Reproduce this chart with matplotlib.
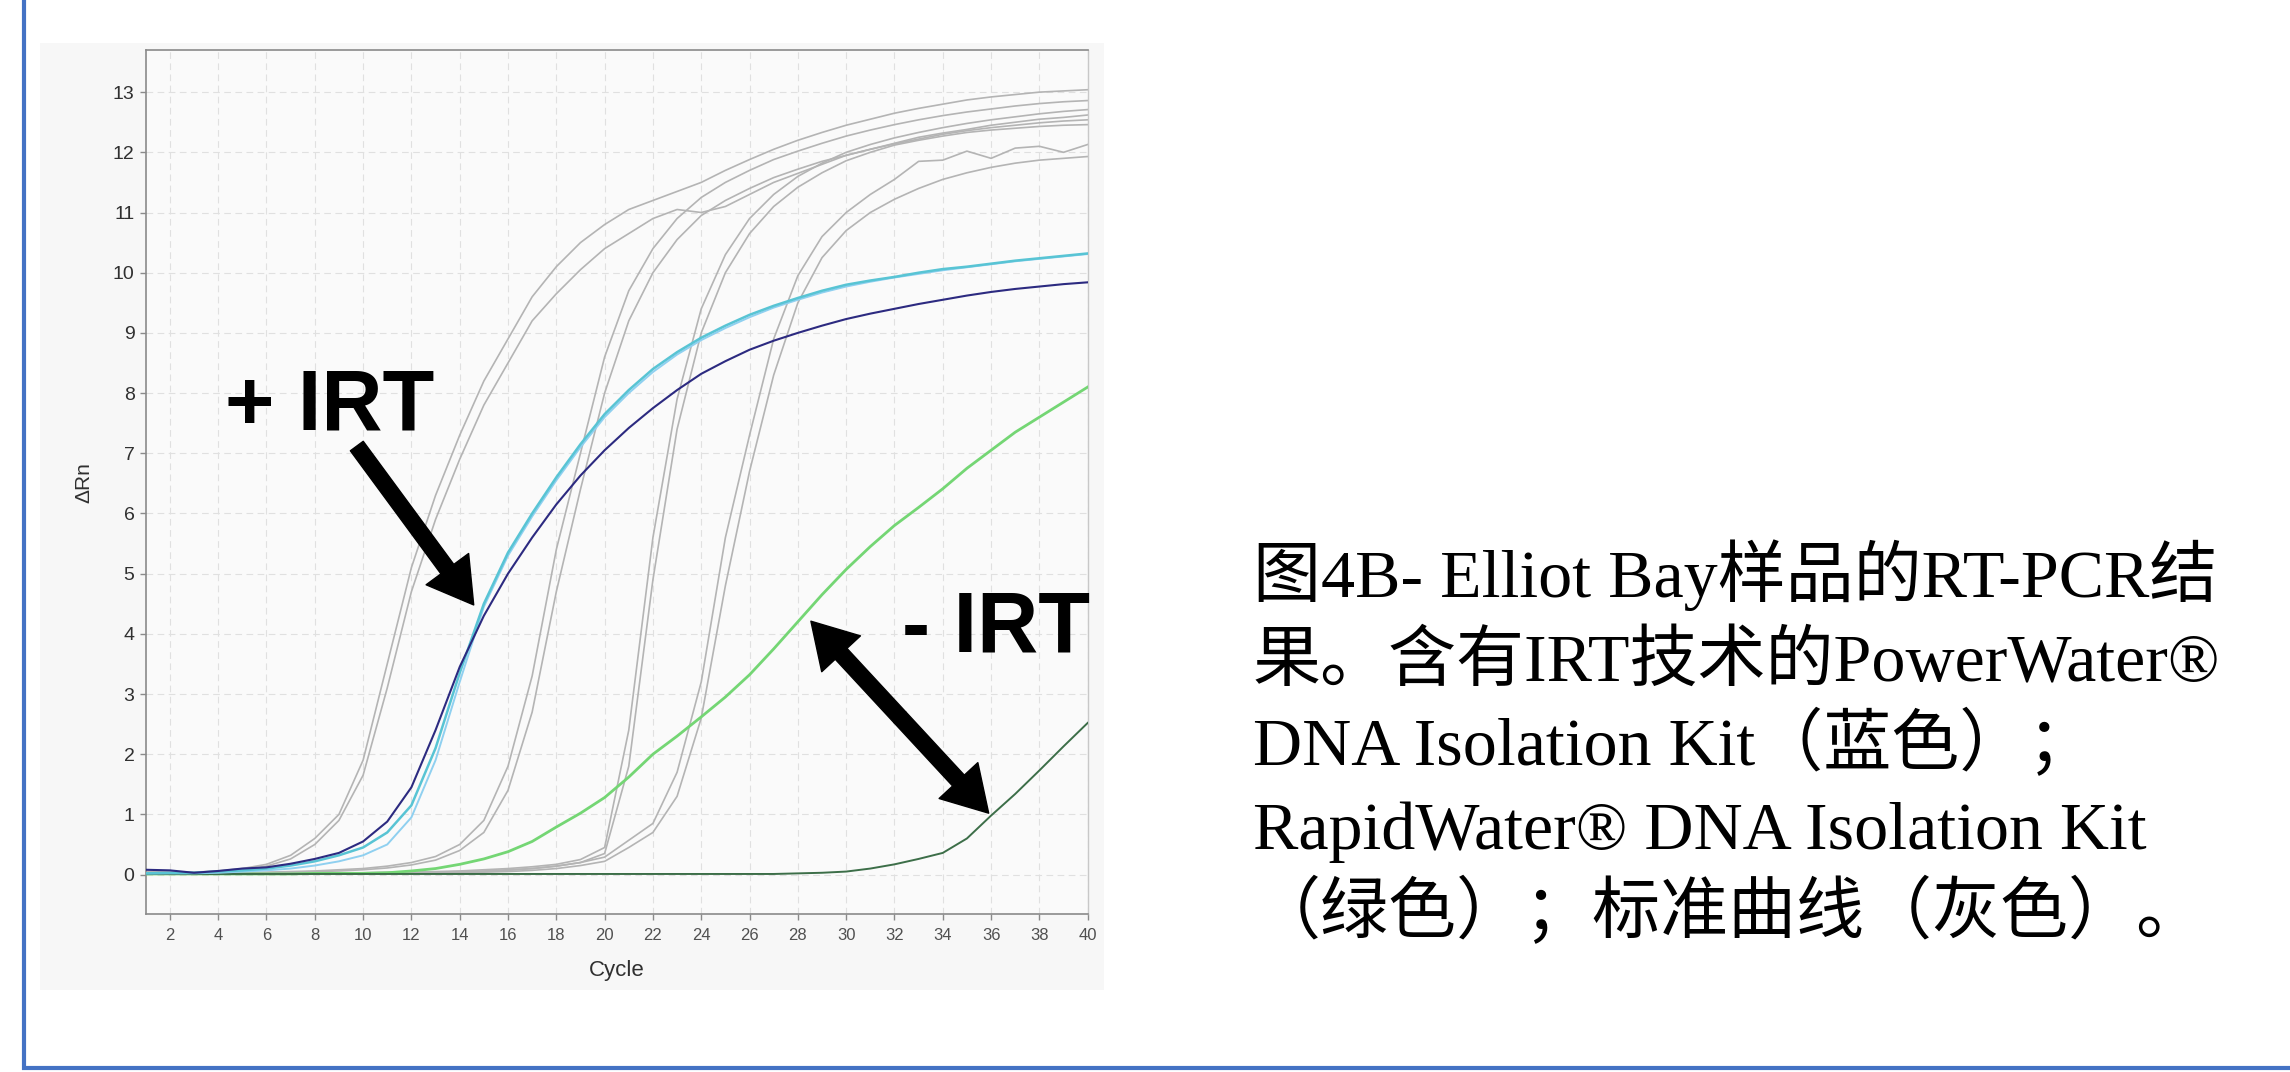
import numpy as np
import matplotlib
matplotlib.use("Agg")
import matplotlib.pyplot as plt
from matplotlib.patches import Rectangle, FancyArrowPatch
from matplotlib.lines import Line2D

cycles = list(range(1, 41))

# standard curves (grey)
std_a1 = [0.05, 0.04, 0.04, 0.06, 0.10, 0.17, 0.32, 0.60, 1.00, 1.90,
          3.50, 5.10, 6.30, 7.30, 8.20, 8.90, 9.60, 10.10, 10.50, 10.80,
          11.05, 11.20, 11.35, 11.50, 11.70, 11.88, 12.05, 12.20, 12.33, 12.45,
          12.55, 12.65, 12.73, 12.80, 12.87, 12.92, 12.96, 13.00, 13.02, 13.04]
std_a2 = [0.04, 0.03, 0.03, 0.05, 0.08, 0.14, 0.26, 0.50, 0.90, 1.65,
          3.10, 4.70, 5.90, 6.90, 7.80, 8.50, 9.20, 9.65, 10.05, 10.40,
          10.65, 10.90, 11.05, 11.00, 11.10, 11.30, 11.50, 11.65, 11.80, 11.95,
          12.05, 12.15, 12.25, 12.32, 12.38, 12.45, 12.50, 12.55, 12.58, 12.62]
std_b1 = [0.03, 0.03, 0.02, 0.03, 0.03, 0.04, 0.05, 0.06, 0.08, 0.10,
          0.14, 0.20, 0.30, 0.50, 0.90, 1.80, 3.30, 5.40, 7.00, 8.60,
          9.70, 10.40, 10.90, 11.25, 11.50, 11.70, 11.88, 12.02, 12.15, 12.27,
          12.37, 12.46, 12.54, 12.61, 12.67, 12.72, 12.77, 12.81, 12.84, 12.86]
std_b2 = [0.02, 0.02, 0.02, 0.02, 0.03, 0.03, 0.04, 0.05, 0.06, 0.08,
          0.11, 0.16, 0.24, 0.40, 0.70, 1.40, 2.70, 4.70, 6.40, 8.00,
          9.20, 10.00, 10.55, 10.95, 11.20, 11.40, 11.58, 11.72, 11.85, 11.95,
          12.05, 12.14, 12.22, 12.30, 12.36, 12.41, 12.45, 12.49, 12.52, 12.54]
std_c1 = [0.02, 0.02, 0.02, 0.02, 0.02, 0.02, 0.02, 0.03, 0.03, 0.03,
          0.04, 0.04, 0.05, 0.06, 0.08, 0.10, 0.13, 0.17, 0.25, 0.45,
          2.40, 5.60, 7.90, 9.40, 10.30, 10.90, 11.30, 11.60, 11.82, 12.00,
          12.13, 12.24, 12.33, 12.41, 12.48, 12.54, 12.59, 12.64, 12.68, 12.71]
std_c2 = [0.02, 0.02, 0.02, 0.02, 0.02, 0.02, 0.02, 0.02, 0.02, 0.03,
          0.03, 0.03, 0.04, 0.05, 0.06, 0.08, 0.10, 0.14, 0.20, 0.35,
          1.80, 4.90, 7.40, 9.00, 10.00, 10.65, 11.10, 11.42, 11.66, 11.86,
          12.00, 12.12, 12.20, 12.27, 12.33, 12.37, 12.40, 12.43, 12.45, 12.46]
std_d1 = [0.02, 0.02, 0.02, 0.02, 0.02, 0.02, 0.02, 0.02, 0.02, 0.02,
          0.02, 0.03, 0.03, 0.04, 0.05, 0.07, 0.10, 0.14, 0.20, 0.29,
          0.57, 0.85, 1.70, 3.20, 5.60, 7.30, 8.90, 9.95, 10.60, 11.00,
          11.30, 11.55, 11.85, 11.87, 12.02, 11.90, 12.07, 12.10, 12.00, 12.13]
std_d2 = [0.02, 0.02, 0.02, 0.02, 0.02, 0.02, 0.02, 0.02, 0.02, 0.02,
          0.02, 0.02, 0.03, 0.03, 0.04, 0.05, 0.07, 0.10, 0.15, 0.22,
          0.45, 0.70, 1.30, 2.60, 4.80, 6.70, 8.30, 9.50, 10.25, 10.70,
          11.00, 11.22, 11.40, 11.55, 11.66, 11.75, 11.82, 11.87, 11.90, 11.93]
standards = [std_a1, std_a2, std_b1, std_b2, std_c1, std_c2, std_d1, std_d2]

# PowerWater with IRT (blue)
power_navy = [0.08, 0.07, 0.03, 0.06, 0.10, 0.12, 0.18, 0.26, 0.36, 0.55,
              0.88, 1.45, 2.40, 3.45, 4.30, 5.00, 5.60, 6.15, 6.63, 7.05,
              7.42, 7.75, 8.05, 8.32, 8.53, 8.72, 8.87, 9.00, 9.12, 9.23,
              9.32, 9.40, 9.48, 9.55, 9.62, 9.68, 9.73, 9.77, 9.81, 9.84]
power_cyan = [0.02, 0.03, 0.03, 0.05, 0.07, 0.10, 0.15, 0.22, 0.32, 0.45,
              0.70, 1.15, 2.10, 3.35, 4.50, 5.35, 6.00, 6.60, 7.15, 7.65,
              8.05, 8.40, 8.68, 8.92, 9.12, 9.30, 9.45, 9.58, 9.70, 9.80,
              9.87, 9.93, 10.00, 10.06, 10.10, 10.15, 10.20, 10.24, 10.28, 10.32]
power_sky = [0.02, 0.02, 0.02, 0.03, 0.05, 0.07, 0.10, 0.15, 0.22, 0.32,
             0.50, 0.95, 1.90, 3.20, 4.45, 5.30, 5.95, 6.55, 7.10, 7.60,
             8.00, 8.35, 8.64, 8.88, 9.08, 9.26, 9.42, 9.55, 9.67, 9.77,
             9.85, 9.92, 9.98, 10.04, 10.09, 10.14, 10.19, 10.23, 10.27, 10.31]

# RapidWater (green)
rapid_light = [0.01, 0.01, 0.01, 0.01, 0.01, 0.01, 0.01, 0.02, 0.02, 0.02,
               0.03, 0.06, 0.10, 0.17, 0.26, 0.38, 0.55, 0.79, 1.02, 1.28,
               1.62, 2.00, 2.30, 2.62, 2.95, 3.32, 3.75, 4.20, 4.65, 5.07,
               5.45, 5.80, 6.10, 6.41, 6.75, 7.05, 7.35, 7.60, 7.85, 8.10]
rapid_dark = [0.01, 0.01, 0.01, 0.01, 0.01, 0.01, 0.01, 0.01, 0.01, 0.01,
              0.01, 0.01, 0.01, 0.01, 0.01, 0.01, 0.01, 0.01, 0.01, 0.01,
              0.01, 0.01, 0.01, 0.01, 0.01, 0.01, 0.01, 0.02, 0.03, 0.05,
              0.10, 0.17, 0.26, 0.36, 0.60, 0.98, 1.34, 1.73, 2.13, 2.52]

x_ticks = list(range(2, 41, 2))
y_ticks = list(range(0, 14))

caption = ["图4B- Elliot Bay样品的RT-PCR结",
           "果。含有IRT技术的PowerWater®",
           "DNA Isolation Kit（蓝色）；",
           "RapidWater® DNA Isolation Kit",
           "（绿色）；标准曲线（灰色）。"]

W, H = 2290, 1072
fig = plt.figure(figsize=(W / 100, H / 100), dpi=100)
fig.patch.set_facecolor("white")

# light grey panel behind the chart
fig.patches.append(Rectangle((40 / W, 1 - 990 / H), 1064 / W, 947 / H,
                             transform=fig.transFigure, facecolor="#f7f7f7",
                             edgecolor="none", zorder=-1))

# blue frame lines (left and bottom)
blue = "#4472c4"
fig.add_artist(Line2D([24 / W, 24 / W], [1 - 1070 / H, 1.0], transform=fig.transFigure,
                      color=blue, lw=3.0, solid_capstyle="butt"))
fig.add_artist(Line2D([22 / W, 1.0], [1 - 1068 / H, 1 - 1068 / H], transform=fig.transFigure,
                      color=blue, lw=3.0, solid_capstyle="butt"))

ax = fig.add_axes([145.7 / W, 1 - 914.3 / H, 942 / W, 864.3 / H])
ax.set_facecolor("#fafafa")

for s in standards:
    ax.plot(cycles, s, color="#b4b4b4", lw=1.2, zorder=2)
ax.plot(cycles, rapid_light, color="#74d674", lw=2.0, zorder=3)
ax.plot(cycles, rapid_dark, color="#3c6e48", lw=1.4, zorder=3)
ax.plot(cycles, power_sky, color="#8fd0f0", lw=1.4, zorder=3)
ax.plot(cycles, power_cyan, color="#58c4d4", lw=1.8, zorder=3)
ax.plot(cycles, power_navy, color="#2c2a80", lw=1.5, zorder=4)

ax.set_xlim(1, 40)
ax.set_ylim(-0.66, 13.7)
ax.set_xticks(x_ticks)
ax.set_yticks(y_ticks)
ax.grid(True, color="#e0e0e0", lw=0.8, linestyle=(0, (6, 4)), zorder=1)
ax.set_axisbelow(True)

for side in ["left", "bottom", "top"]:
    ax.spines[side].set_color("#8a8a8a")
    ax.spines[side].set_linewidth(1.2)
ax.spines["right"].set_color("#c8c8c8")
ax.spines["right"].set_linewidth(1.0)
ax.tick_params(axis="both", direction="out", length=4, width=1, color="#8a8a8a")
ax.tick_params(axis="y", labelsize=14, labelcolor="#303030", pad=4)
ax.tick_params(axis="x", labelsize=12, labelcolor="#505050", pad=6)
for lab in ax.get_xticklabels() + ax.get_yticklabels():
    lab.set_family("Liberation Sans")

ax.set_xlabel("Cycle", fontsize=16, family="Liberation Sans", color="#303030", labelpad=12)
ax.set_ylabel("ΔRn", fontsize=15, family="Liberation Sans", color="#303030", labelpad=14)

# annotations
ax.text(4.3, 7.39, "+ IRT", fontsize=61, fontweight="bold", family="Liberation Sans",
        va="baseline", ha="left", zorder=6)
ax.text(32.3, 3.7, "- IRT", fontsize=61, fontweight="bold", family="Liberation Sans",
        va="baseline", ha="left", zorder=6)

arrow_style = "simple,head_length=3.2,head_width=3.8,tail_width=1.15"
ax.add_patch(FancyArrowPatch((9.74, 7.12), (14.58, 4.48), arrowstyle=arrow_style,
                             mutation_scale=10, color="black", shrinkA=0, shrinkB=0, zorder=6))
mid = ((28.54 + 35.9) / 2, (4.21 + 1.02) / 2)
ax.add_patch(FancyArrowPatch(mid, (28.54, 4.21), arrowstyle=arrow_style,
                             mutation_scale=10, color="black", shrinkA=0, shrinkB=0, zorder=6))
ax.add_patch(FancyArrowPatch(mid, (35.9, 1.02), arrowstyle=arrow_style,
                             mutation_scale=10, color="black", shrinkA=0, shrinkB=0, zorder=6))

# caption on the right
baselines = [597, 681, 765, 849, 933]
for line, yb in zip(caption, baselines):
    fig.text(1253 / W, 1 - yb / H, line, fontsize=49,
             family=["Liberation Serif", "Noto Sans CJK SC"],
             ha="left", va="baseline", color="black")

fig.savefig("out.png", dpi=100, facecolor="white")
